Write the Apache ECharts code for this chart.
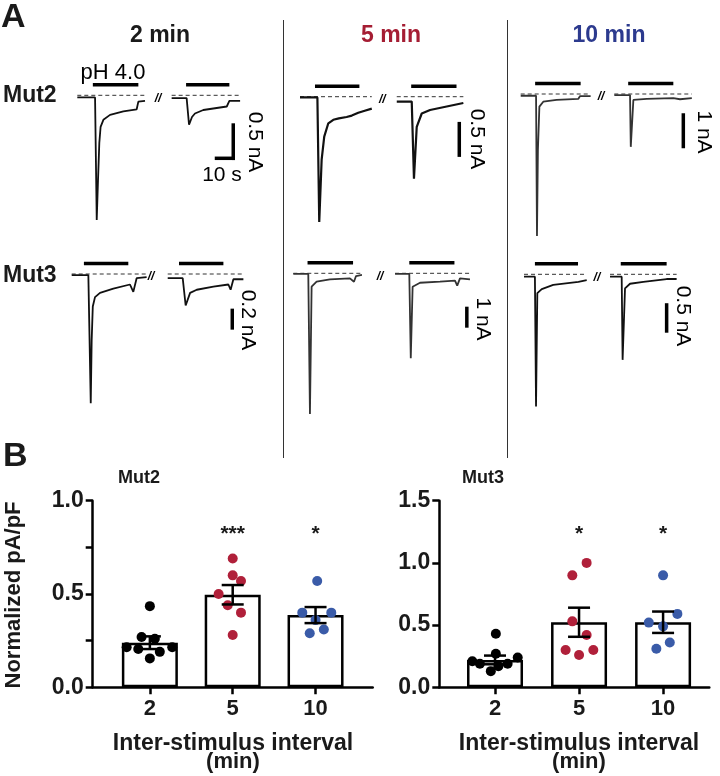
<!DOCTYPE html>
<html><head><meta charset="utf-8">
<script src="https://cdn.jsdelivr.net/npm/echarts@6/dist/echarts.min.js"></script>
<style>html,body{margin:0;padding:0;background:#fff}#c{width:720px;height:776px}</style>
</head><body><div id="c"></div>
<script>
// ================= DATA =================
// Panel A: current traces, [time (s), current (nA)]
const mut2_2min_t1 = [[0,-0.03],[9.6,-0.03],[10.5,-1.78],[11.2,-1.21],[11.9,-0.68],[12.6,-0.45],[14.1,-0.35],[17.7,-0.28],[24.9,-0.23],[32.1,-0.2],[33.0,-0.09],[36.6,-0.08]];
const mut2_2min_t2 = [[51.0,-0.04],[59.1,-0.04],[60.4,-0.42],[62.0,-0.31],[63.6,-0.26],[68.1,-0.21],[80.8,-0.16],[82.2,-0.08],[88.0,-0.08]];
const mut2_5min_t1 = [[0,-0.01],[9.4,-0.01],[10.4,-1.79],[11.7,-0.9],[13.1,-0.57],[15.3,-0.38],[18.0,-0.33],[21.0,-0.31],[25.2,-0.29],[28.0,-0.27],[31.5,-0.23],[35.0,-0.2],[38.8,-0.17]];
const mut2_5min_t2 = [[52.3,-0.07],[60.4,-0.07],[61.6,-1.17],[63.1,-0.43],[65.8,-0.24],[70.3,-0.19],[79.3,-0.14],[88.3,-0.09]];
const mut2_10min_t1 = [[0,-0.05],[8.3,-0.05],[8.8,-4.06],[9.3,-1.6],[10.1,-0.36],[12.2,-0.22],[19.4,-0.17],[31.1,-0.14],[32.1,-0.06],[37.8,-0.06]];
const mut2_10min_t2 = [[50.6,-0.03],[59.1,-0.03],[59.5,-1.51],[60.9,-0.17],[68.1,-0.14],[82.5,-0.12],[86.1,-0.15],[92.5,-0.12]];
const mut3_2min_t1 = [[0,-0.01],[9.0,-0.01],[10.3,-1.23],[10.8,-0.63],[11.4,-0.31],[12.6,-0.22],[15.3,-0.18],[22.5,-0.14],[31.5,-0.10],[33.3,-0.17],[35.1,-0.04],[40.5,-0.03]];
const mut3_2min_t2 = [[51.9,-0.04],[60.0,-0.04],[61.6,-0.30],[64.0,-0.18],[67.6,-0.15],[76.6,-0.12],[84.7,-0.10],[85.9,-0.15],[87.4,-0.05],[92.8,-0.05]];
const mut3_5min_t1 = [[0,-0.03],[8.1,-0.03],[9.0,-6.70],[9.9,-0.64],[12.6,-0.40],[19.8,-0.29],[30.6,-0.24],[32.8,-0.40],[33.9,-0.13],[37.1,-0.08]];
const mut3_5min_t2 = [[55.0,-0.03],[62.7,-0.03],[63.5,-4.05],[64.5,-0.64],[68.5,-0.45],[79.3,-0.40],[87.4,-0.35],[88.6,-0.59],[90.1,-0.24],[95.5,-0.29]];
const mut3_10min_t1 = [[0,-0.04],[5.9,-0.04],[6.5,-2.24],[7.2,-0.32],[9.6,-0.25],[15.8,-0.18],[29.4,-0.13],[33.9,-0.10]];
const mut3_10min_t2 = [[46.5,-0.04],[52.8,-0.04],[53.3,-1.45],[54.6,-0.24],[57.3,-0.16],[64.5,-0.13],[77.1,-0.08],[82.5,-0.08]];
// pH 4.0 application periods [start, end] (s)
const mut2_2min_stim = [[8.4,33.0],[58.8,82.2]];
const mut2_5min_stim = [[8.1,32.1],[60.1,84.6]];
const mut2_10min_stim = [[7.8,32.4],[58.1,82.5]];
const mut3_2min_stim = [[6.6,30.6],[58.0,82.0]];
const mut3_5min_stim = [[7.7,32.3],[62.7,87.1]];
const mut3_10min_stim = [[5.9,29.2],[52.3,77.1]];
// scale bars (nA) per cell, time bar (s)
const scaleNA = [0.5, 0.5, 1, 0.2, 1, 0.5];
const scaleS = 10;
const columnTitles = ['2 min', '5 min', '10 min'];
const rowTitles = ['Mut2', 'Mut3'];

// Panel B
const intervals = ['2', '5', '10'];
const mut2Mean = [0.239, 0.496, 0.387];
const mut2Sem = [0.034, 0.052, 0.043];
const mut2Pts2 = [0.435, 0.27, 0.26, 0.215, 0.205, 0.19, 0.215, 0.155];
const mut2Pts5 = [0.69, 0.60, 0.57, 0.50, 0.44, 0.40, 0.28];
const mut2Pts10 = [0.57, 0.40, 0.40, 0.36, 0.29, 0.31];
const mut3Mean = [0.22, 0.523, 0.523];
const mut3Sem = [0.035, 0.117, 0.086];
const mut3Pts2 = [0.43, 0.27, 0.24, 0.21, 0.19, 0.17, 0.19, 0.13];
const mut3Pts5 = [1.0, 0.90, 0.53, 0.42, 0.30, 0.30, 0.26];
const mut3Pts10 = [0.90, 0.59, 0.52, 0.49, 0.36, 0.31];
const mut2Sig = ['', '***', '*'];
const mut3Sig = ['', '*', '*'];

// ================= LAYOUT / STYLE =================
const FONT = "'Liberation Sans', Arial, Helvetica, sans-serif";
const RED = '#b0203a', BLUE = '#3a5ba8', RED_T = '#a51d33', BLUE_T = '#2c3a8e';
const PX_PER_S = 1.85, T_MAX = 100;
// jitter of dots (category units)
const mut2Jit = [[0,-0.1,0.06,-0.28,-0.14,0.12,0.27,0],[0,0,0.1,-0.17,-0.06,0.1,0],[0.02,-0.16,0.19,0,-0.07,0.1]];
const mut3Jit = [[0.01,0.01,0.27,-0.27,-0.18,0.04,0.15,-0.05],[0.09,-0.08,-0.08,0.09,-0.16,0.17,0],[0,0.17,-0.17,0,0.08,-0.08]];

const cells = [
  {traces:[mut2_2min_t1, mut2_2min_t2], stim:mut2_2min_stim, x0:77.3, y0:95.3, pxNA:70, brk:43.6, sbT:84.3, sbTop:-0.40, timeBar:true, lab:[255,142], color:'#111', w:1.8},
  {traces:[mut2_5min_t1, mut2_5min_t2], stim:mut2_5min_stim, x0:300, y0:96.7, pxNA:70, brk:44.5, sbT:86.1, sbTop:-0.36, lab:[477,139], color:'#111', w:2.2},
  {traces:[mut2_10min_t1, mut2_10min_t2], stim:mut2_10min_stim, x0:520.7, y0:94, pxNA:35, brk:43.4, sbT:87.9, sbTop:-0.55, lab:[704,132], color:'#333', w:1.8},
  {traces:[mut3_2min_t1, mut3_2min_t2], stim:mut3_2min_stim, x0:71.7, y0:274, pxNA:105, brk:42.9, sbT:86.8, sbTop:-0.33, lab:[248,320], color:'#111', w:1.8},
  {traces:[mut3_5min_t1, mut3_5min_t2], stim:mut3_5min_stim, x0:293.3, y0:273.3, pxNA:21, brk:46.9, sbT:93.8, sbTop:-1.59, lab:[483,319], color:'#333', w:1.8},
  {traces:[mut3_10min_t1, mut3_10min_t2], stim:mut3_10min_stim, x0:524, y0:274.3, pxNA:59, brk:39.4, sbT:77.1, sbTop:-0.49, lab:[683,316], color:'#111', w:1.8}
];

const grids = [], xAxes = [], yAxes = [], series = [], graphics = [];
function addGrid(g, xa, ya) {
  grids.push(g);
  const i = grids.length - 1;
  xAxes.push(Object.assign({gridIndex: i}, xa));
  yAxes.push(Object.assign({gridIndex: i}, ya));
  return i;
}

// ---------- Panel A ----------
cells.forEach((c, ci) => {
  const gi = addGrid({left: c.x0, top: c.y0 - 20, width: T_MAX * PX_PER_S, height: 220},
    {type: 'value', min: 0, max: T_MAX, show: false},
    {type: 'value', min: -200 / c.pxNA, max: 20 / c.pxNA, show: false});
  series.push({type: 'custom', xAxisIndex: gi, yAxisIndex: gi, silent: true, z: 1,
    data: c.traces.map(tr => [tr[0][0], tr[tr.length - 1][0]]),
    renderItem: (p, api) => {
      const a = api.coord([api.value(0), 0]), b = api.coord([api.value(1), 0]);
      return {type: 'line', shape: {x1: a[0], y1: a[1], x2: b[0], y2: b[1]}, style: {stroke: '#333', lineWidth: 1, lineDash: [4, 3]}};
    }});
  c.traces.forEach(tr => series.push({type: 'line', xAxisIndex: gi, yAxisIndex: gi, data: tr, symbol: 'none', silent: true, z: 3,
    lineStyle: {color: c.color, width: c.w}}));
  series.push({type: 'custom', xAxisIndex: gi, yAxisIndex: gi, silent: true, z: 3, data: c.stim,
    renderItem: (p, api) => {
      const a = api.coord([api.value(0), 0]), b = api.coord([api.value(1), 0]);
      return {type: 'line', shape: {x1: a[0], y1: a[1] - 10.5, x2: b[0], y2: b[1] - 10.5}, style: {stroke: '#000', lineWidth: 3.5}};
    }});
  series.push({type: 'custom', xAxisIndex: gi, yAxisIndex: gi, silent: true, z: 3, data: [[c.brk, 0]],
    renderItem: (p, api) => {
      const a = api.coord([api.value(0), api.value(1)]);
      return {type: 'text', x: a[0], y: a[1] + 3, style: {text: '//', font: 'italic bold 12px ' + FONT, fill: '#000', align: 'center', verticalAlign: 'middle'}};
    }});
  series.push({type: 'custom', xAxisIndex: gi, yAxisIndex: gi, silent: true, z: 3,
    data: [[c.sbT, c.sbTop, scaleNA[ci], c.timeBar ? scaleS : 0]],
    renderItem: (p, api) => {
      const t = api.value(0), top = api.value(1), len = api.value(2), ts = api.value(3);
      const a = api.coord([t, top]), b = api.coord([t, top - len]);
      const ch = [{type: 'line', shape: {x1: a[0], y1: a[1], x2: b[0], y2: b[1] + (ts ? 1.75 : 0)}, style: {stroke: '#000', lineWidth: 3.5}}];
      if (ts) {
        const d = api.coord([t - ts, top - len]);
        ch.push({type: 'line', shape: {x1: d[0], y1: d[1], x2: b[0] + 1.75, y2: b[1]}, style: {stroke: '#000', lineWidth: 3.5}});
      }
      return {type: 'group', children: ch};
    }});
  graphics.push({type: 'text', x: c.lab[0], y: c.lab[1], rotation: -Math.PI / 2,
    style: {text: scaleNA[ci] + ' nA', font: '21px ' + FONT, fill: '#000', align: 'center', verticalAlign: 'middle'}});
});

// ---------- Panel B ----------
function panelB(left, width, xmin, xmax, ymax, yint, means, sems, pts, jit, sig, sigY) {
  const gi = addGrid({left: left, top: 500.7, width: width, height: 186.6},
    {type: 'value', min: xmin, max: xmax,
      axisLine: {show: true, onZero: false, lineStyle: {color: '#000', width: 2.5}},
      axisTick: {show: true, customValues: [1, 2, 3], length: 7, lineStyle: {color: '#000', width: 2.5}},
      axisLabel: {customValues: [1, 2, 3], formatter: v => intervals[Math.round(v) - 1] || '', margin: 11,
        fontFamily: FONT, fontWeight: 'bold', fontSize: 22, color: '#1a1a1a'},
      splitLine: {show: false}},
    {type: 'value', min: 0, max: ymax, interval: yint,
      axisLine: {show: true, lineStyle: {color: '#000', width: 2.5}},
      axisTick: {show: true, length: 7, lineStyle: {color: '#000', width: 2.5}},
      axisLabel: {formatter: v => (Math.abs(v * 2 - Math.round(v * 2)) < 1e-6 ? v.toFixed(1) : ''), margin: 9,
        fontFamily: FONT, fontWeight: 'bold', fontSize: 23, color: '#1a1a1a'},
      splitLine: {show: false}});
  series.push({type: 'bar', xAxisIndex: gi, yAxisIndex: gi, barWidth: 56, silent: true, z: 2,
    data: means.map((m, i) => [i + 1, m]),
    itemStyle: {color: '#fff', borderColor: '#000', borderWidth: 2.5}});
  const cols = ['#000', RED, BLUE];
  pts.forEach((arr, k) => series.push({type: 'scatter', xAxisIndex: gi, yAxisIndex: gi, silent: true, z: 3,
    symbolSize: 10, itemStyle: {color: cols[k], opacity: 1},
    data: arr.map((v, j) => [k + 1 + jit[k][j], v])}));
  series.push({type: 'custom', xAxisIndex: gi, yAxisIndex: gi, silent: true, z: 4,
    data: means.map((m, i) => [i + 1, m, sems[i]]),
    renderItem: (p, api) => {
      const x = api.value(0), m = api.value(1), s = api.value(2);
      const hi = api.coord([x, m + s]), lo = api.coord([x, m - s]);
      const st = {stroke: '#000', lineWidth: 2.5};
      return {type: 'group', children: [
        {type: 'line', shape: {x1: hi[0], y1: hi[1], x2: lo[0], y2: lo[1]}, style: st},
        {type: 'line', shape: {x1: hi[0] - 11, y1: hi[1], x2: hi[0] + 11, y2: hi[1]}, style: st},
        {type: 'line', shape: {x1: lo[0] - 11, y1: lo[1], x2: lo[0] + 11, y2: lo[1]}, style: st}]};
    }});
  series.push({type: 'custom', xAxisIndex: gi, yAxisIndex: gi, silent: true, z: 4,
    data: sig.map((s, i) => [i + 1, sigY]),
    renderItem: (p, api) => {
      const a = api.coord([api.value(0), api.value(1)]);
      return {type: 'text', x: a[0], y: a[1], style: {text: sig[p.dataIndex], font: 'bold 21px ' + FONT, fill: '#1a1a1a', align: 'center', verticalAlign: 'middle'}};
    }});
}
panelB(92.7, 280, 0.31, 3.69, 1.0, 0.25, mut2Mean, mut2Sem, [mut2Pts2, mut2Pts5, mut2Pts10], mut2Jit, mut2Sig, 0.82);
panelB(439.3, 270, 0.337, 3.55, 1.5, 0.5, mut3Mean, mut3Sem, [mut3Pts2, mut3Pts5, mut3Pts10], mut3Jit, mut3Sig, 1.23);

// ---------- Texts ----------
function txt(x, y, text, font, fill, align, rot) {
  graphics.push({type: 'text', x: x, y: y, rotation: rot || 0,
    style: {text: text, font: font, fill: fill || '#1a1a1a', align: align || 'center', verticalAlign: 'middle'}});
}
txt(1, 18, 'A', 'bold 34px ' + FONT, '#1a1a1a', 'left');
txt(3, 457, 'B', 'bold 34px ' + FONT, '#1a1a1a', 'left');
txt(160, 36, columnTitles[0], 'bold 23px ' + FONT, '#1a1a1a');
txt(391, 36, columnTitles[1], 'bold 23px ' + FONT, RED_T);
txt(609, 36, columnTitles[2], 'bold 23px ' + FONT, BLUE_T);
txt(3, 96, rowTitles[0], 'bold 23px ' + FONT, '#1a1a1a', 'left');
txt(3, 276, rowTitles[1], 'bold 23px ' + FONT, '#1a1a1a', 'left');
txt(113, 73, 'pH 4.0', '22px ' + FONT, '#000');
txt(222, 175, scaleS + ' s', '21px ' + FONT, '#000');
txt(118, 478, 'Mut2', 'bold 18px ' + FONT, '#1a1a1a', 'left');
txt(462, 478, 'Mut3', 'bold 18px ' + FONT, '#1a1a1a', 'left');
txt(14, 595, 'Normalized pA/pF', 'bold 22px ' + FONT, '#1a1a1a', 'center', Math.PI / 2);
txt(233, 744, 'Inter-stimulus interval', 'bold 23px ' + FONT);
txt(233, 762, '(min)', 'bold 22px ' + FONT);
txt(579, 744, 'Inter-stimulus interval', 'bold 23px ' + FONT);
txt(579, 762, '(min)', 'bold 22px ' + FONT);
[283.5, 507.5].forEach(x => graphics.push({type: 'line', shape: {x1: x, y1: 20, x2: x, y2: 458}, style: {stroke: '#333', lineWidth: 1}}));

const chart = echarts.init(document.getElementById('c'), null, {renderer: 'canvas'});
chart.setOption({animation: false, backgroundColor: '#fff', grid: grids, xAxis: xAxes, yAxis: yAxes, series: series, graphic: graphics});
</script></body></html>
